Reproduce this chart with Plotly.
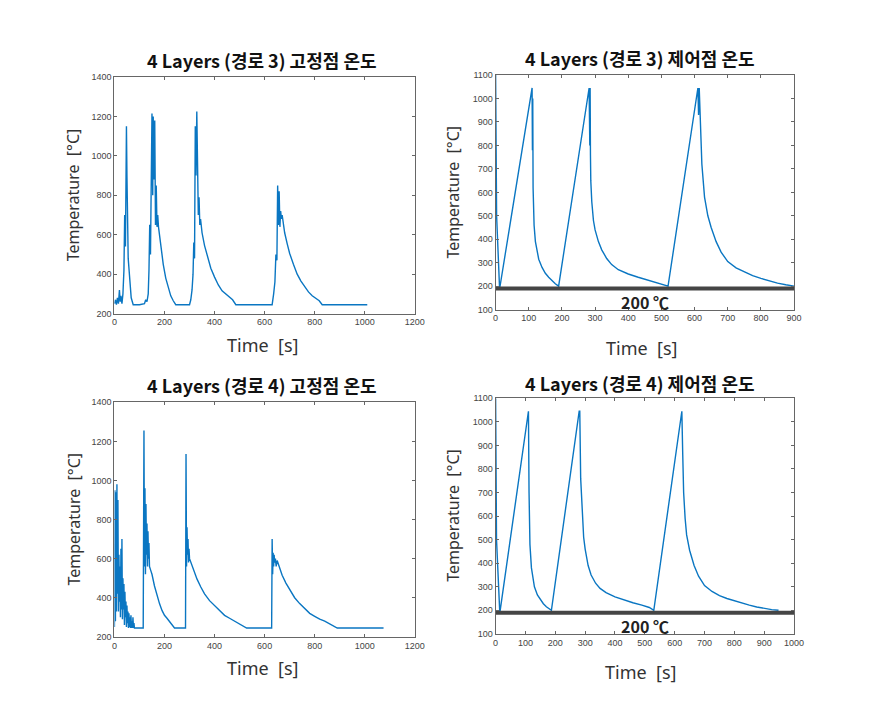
import plotly.graph_objects as go

# ---------------- data ----------------
# Top-left: 경로 3 고정점
t3_fixed = [0, 4, 8, 12, 16, 20, 23, 26, 30, 34, 38, 41, 44, 46, 48, 50, 52, 55, 58, 62, 67, 75,
            100, 120, 125, 130, 135, 138, 141, 144, 147, 150, 153, 155, 158, 161, 164, 167, 170, 173,
            176, 185, 195, 205, 215, 225, 235, 245,
            300, 305, 310, 314, 317, 320, 323, 326, 329, 332, 335, 338, 341, 344, 347, 350, 360, 370,
            385, 400, 415, 430, 445, 460, 472, 485,
            630, 636, 641, 645, 649, 652, 655, 658, 661, 664, 667, 670, 674, 680, 690, 700, 715, 730,
            745, 760, 775, 790, 805, 818, 830, 1010]
T3_fixed = [250, 270, 245, 280, 250, 320, 260, 290, 250, 300, 420, 700, 540, 1000, 1150, 900, 530, 480, 430, 340, 280, 245,
            245, 250, 270, 260, 300, 420, 650, 500, 900, 1215, 800, 1200, 880, 1180, 650, 850, 640, 700,
            640, 540, 450, 380, 330, 290, 265, 245,
            245, 270, 320, 400, 560, 480, 1150, 900, 1225, 820, 700, 790, 650, 680, 640, 610, 545, 495,
            430, 385, 345, 315, 300, 285, 270, 245,
            245, 300, 360, 500, 470, 850, 650, 820, 640, 720, 680, 700, 650, 610, 555, 505, 450, 400,
            365, 335, 310, 290, 278, 265, 245, 245]

# Bottom-left: 경로 4 고정점
t4_fixed = [0, 2, 4, 6, 8, 10, 12, 14, 16, 18, 20, 22, 24, 26, 28, 30, 32, 34, 36, 38, 40, 42, 44, 46,
            48, 50, 52, 54, 56, 58, 60, 62, 64, 66, 68, 70, 72, 74, 76, 78, 80,
            115, 118, 120, 122, 124, 126, 128, 130, 132, 134, 136, 138, 140, 145, 150, 160, 170, 180,
            190, 200, 210, 220, 230, 240,
            284, 286, 288, 290, 292, 294, 296, 298, 300, 303, 306, 310, 320, 330, 345, 360, 380, 400,
            420, 440, 460, 480, 500, 515, 528,
            628, 630, 632, 634, 636, 638, 640, 643, 646, 650, 655, 660, 670, 685, 700, 720, 740, 760,
            780, 800, 820, 840, 860, 880, 890, 1075]
T4_fixed = [250, 950, 280, 940, 330, 980, 420, 900, 330, 620, 380, 560, 300, 650, 340, 700, 290, 500, 340,
            470, 260, 430, 300, 380, 250, 360, 270, 330, 245, 320, 250, 300, 245, 310, 245, 280, 245, 300,
            245, 270, 245,
            245, 1255, 560, 960, 520, 880, 620, 780, 560, 740, 600, 680, 560, 540, 520, 460, 410, 370,
            335, 310, 295, 280, 260, 245,
            245, 1135, 560, 760, 620, 700, 580, 650, 600, 590, 580, 560, 530, 495, 455, 420, 385, 360,
            335, 310, 295, 280, 268, 258, 245,
            245, 700, 520, 630, 560, 620, 580, 600, 560, 590, 570, 545, 515, 475, 440, 400, 370, 345,
            320, 305, 290, 280, 265, 250, 245, 245]

# Top-right: 경로 3 제어점
t3_ctrl = [0, 3, 12, 109, 110, 111, 112, 113, 116, 120, 125, 130, 140, 150, 160, 170, 180, 190,
           282, 284, 285, 286, 287, 290, 295, 300, 310, 320, 335, 350, 370, 400, 430, 460, 490, 520,
           610, 612, 614, 616, 618, 622, 630, 640, 650, 665, 680, 700, 725, 750, 775, 800, 825, 850,
           875, 900]
T3_ctrl = [1100, 500, 188, 1045, 1045, 780, 1000, 620, 460, 390, 345, 315, 280, 255, 238, 222, 210, 200,
           1045, 800, 1045, 760, 650, 560, 480, 440, 390, 355, 318, 292, 270, 252, 238, 226, 214, 200,
           1045, 930, 1045, 960, 880, 720, 580, 500, 450, 390, 345, 305, 278, 260, 245, 233, 222, 213,
           206, 200]

# Bottom-right: 경로 4 제어점
t4_ctrl = [0, 3, 14, 108, 110, 112, 115, 120, 125, 130, 140, 150, 160, 170, 180, 187,
           280, 282, 285, 290, 295, 300, 310, 320, 335, 350, 370, 400, 430, 460, 490, 515, 530,
           622, 624, 627, 630, 635, 640, 650, 665, 680, 700, 725, 750, 775, 800, 825, 850, 875, 900,
           925, 948]
T4_ctrl = [1100, 500, 188, 1045, 1045, 700, 480, 380, 330, 300, 265, 245, 228, 215, 207, 200,
           1045, 1045, 760, 600, 510, 460, 390, 350, 315, 293, 275, 257, 243, 232, 222, 212, 200,
           1045, 1045, 860, 700, 590, 520, 455, 390, 345, 305, 280, 262, 250, 240, 230, 222, 214, 208,
           203, 200]

limit_x3 = [0, 900]
limit_x4 = [0, 1000]
limit_y = [190, 190]

titles = ["4 Layers (경로 3) 고정점 온도", "4 Layers (경로 3) 제어점 온도",
          "4 Layers (경로 4) 고정점 온도", "4 Layers (경로 4) 제어점 온도"]
xlabel = "Time  [s]"
ylabel = "Temperature  [°C]"
limit_text = "200 ℃"

# ---------------- layout helpers ----------------
# The page body has an 8px margin; size the figure so the page is exactly 882x705.
OFF = 8
W, H = 882 - 2 * OFF, 705 - 2 * OFF

def px(x):
    return (x - OFF) / W

def py(y):
    return 1 - (y - OFF) / H

boxes = {
    1: (113, 418, 73, 313),
    2: (500, 803, 71, 309),
    3: (113, 418, 403, 641),
    4: (500, 803, 399, 638),
}

LINE = "#0a76c2"
fig = go.Figure()

series = [
    (1, t3_fixed, T3_fixed),
    (2, t3_ctrl, T3_ctrl),
    (3, t4_fixed, T4_fixed),
    (4, t4_ctrl, T4_ctrl),
]
for k, xs, ys in series:
    ax = "" if k == 1 else str(k)
    fig.add_trace(go.Scatter(x=xs, y=ys, mode="lines", line=dict(color=LINE, width=1.4),
                             xaxis="x" + ax, yaxis="y" + ax, showlegend=False, hoverinfo="skip",
                             cliponaxis=True))

fig.add_trace(go.Scatter(x=limit_x3, y=limit_y, mode="lines", line=dict(color="#454545", width=4),
                         xaxis="x2", yaxis="y2", showlegend=False))
fig.add_trace(go.Scatter(x=limit_x4, y=limit_y, mode="lines", line=dict(color="#454545", width=4),
                         xaxis="x4", yaxis="y4", showlegend=False))

ranges = {
    1: ([0, 1200], 200, [200, 1400], 200),
    2: ([0, 900], 100, [100, 1100], 100),
    3: ([0, 1200], 200, [200, 1400], 200),
    4: ([0, 1000], 100, [100, 1100], 100),
}

axis_common = dict(showgrid=False, zeroline=False, showline=True, linecolor="#666666", linewidth=1,
                   mirror="ticks", ticks="inside", ticklen=3, tickcolor="#666666",
                   tickfont=dict(family="Liberation Sans", size=9, color="#444444"))

layout = dict(width=W, height=H, margin=dict(l=0, r=0, t=0, b=0),
              paper_bgcolor="white", plot_bgcolor="white", showlegend=False)

for k, (x0, x1, y0, y1) in boxes.items():
    xr, xd, yr, yd = ranges[k]
    ax = "" if k == 1 else str(k)
    layout["xaxis" + ax] = dict(domain=[px(x0), px(x1)], range=xr, dtick=xd, tick0=0,
                                anchor="y" + ax, **axis_common)
    layout["yaxis" + ax] = dict(domain=[py(y1), py(y0)], range=yr, dtick=yd, tick0=0,
                                anchor="x" + ax, **axis_common)

fig.update_layout(**layout)

title_pos = {1: (263, 56), 2: (647, 54), 3: (263, 385), 4: (647, 383)}
xlab_pos = {1: (263, 345), 2: (648, 348), 3: (263, 673), 4: (647, 677)}
ylab_pos = {1: (71, 193), 2: (457, 190), 3: (71, 522), 4: (456, 518)}
lim_pos = {2: (652, 301), 4: (652, 630)}

for k in range(1, 5):
    tx, ty = title_pos[k]
    fig.add_annotation(x=px(tx), y=py(ty), xref="paper", yref="paper", text="<b>" + titles[k - 1] + "</b>",
                       showarrow=False, xanchor="center", yanchor="middle",
                       font=dict(family="Noto Sans CJK KR", size=18, color="#111111"))
    lx, ly = xlab_pos[k]
    fig.add_annotation(x=px(lx), y=py(ly), xref="paper", yref="paper", text=xlabel,
                       showarrow=False, xanchor="center", yanchor="middle",
                       font=dict(family="Noto Sans", size=18, color="#333333"))
    vx, vy = ylab_pos[k]
    fig.add_annotation(x=px(vx), y=py(vy), xref="paper", yref="paper", text=ylabel, textangle=-90,
                       showarrow=False, xanchor="center", yanchor="middle",
                       font=dict(family="Noto Sans", size=16, color="#333333"))

for k, (lx, ly) in lim_pos.items():
    fig.add_annotation(x=px(lx), y=py(ly), xref="paper", yref="paper", text="<b>" + limit_text + "</b>",
                       showarrow=False, xanchor="center", yanchor="middle",
                       font=dict(family="Noto Sans CJK KR", size=16, color="#222222"))

fig.write_html("out.html")
